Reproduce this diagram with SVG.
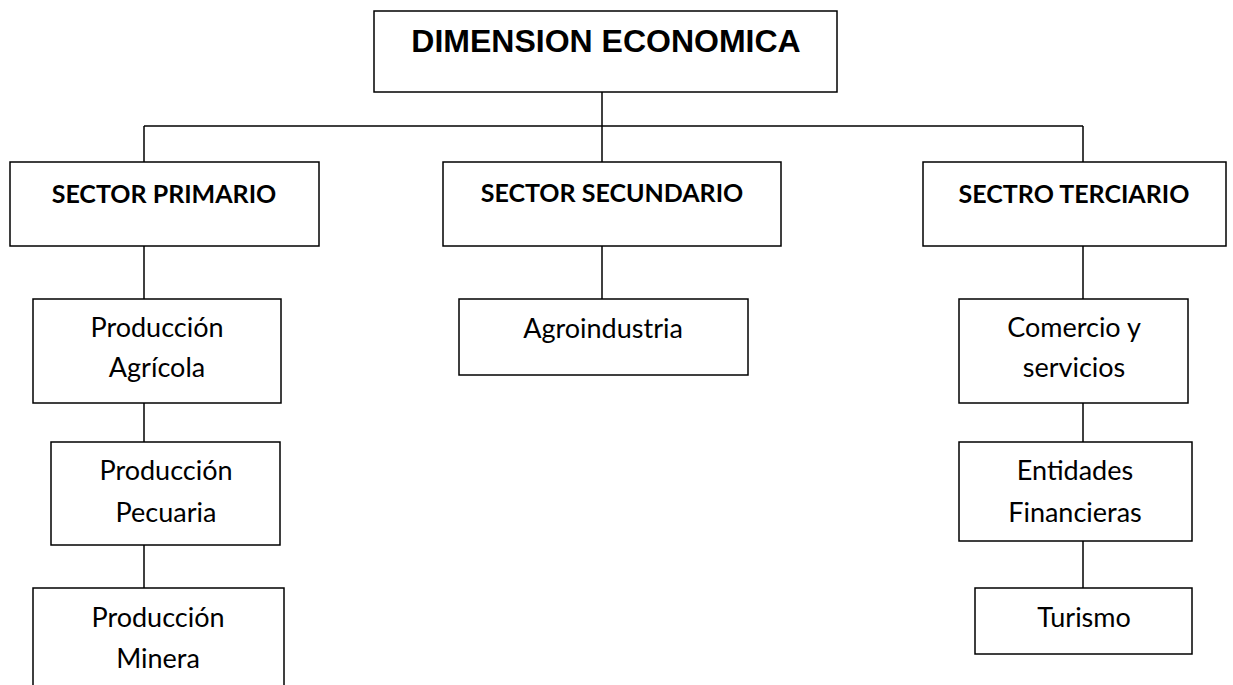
<svg xmlns="http://www.w3.org/2000/svg" width="1233" height="685" viewBox="0 0 1233 685">
<style>
.box{fill:#fff;stroke:#000;stroke-width:1.5}
.ln{fill:none;stroke:#000;stroke-width:1.5}
.title{font-family:"Liberation Sans",Arial,sans-serif;font-weight:bold;font-size:32px;text-anchor:middle;fill:#000}
.hd{font-family:Lato,"Open Sans",sans-serif;font-weight:bold;font-size:25px;text-anchor:middle;fill:#000}
.tx{font-family:Lato,"Open Sans",sans-serif;font-size:27px;text-anchor:middle;fill:#000}
</style>
<rect width="1233" height="685" fill="#fff"/>
<g id="connectors">
<line class="ln" x1="602" y1="92" x2="602" y2="126"/>
<line class="ln" x1="144" y1="126" x2="1083" y2="126"/>
<line class="ln" x1="144" y1="126" x2="144" y2="162"/>
<line class="ln" x1="602" y1="126" x2="602" y2="162"/>
<line class="ln" x1="1083" y1="126" x2="1083" y2="162"/>
<line class="ln" x1="144" y1="246" x2="144" y2="299"/>
<line class="ln" x1="144" y1="403" x2="144" y2="442"/>
<line class="ln" x1="144" y1="545" x2="144" y2="588"/>
<line class="ln" x1="602" y1="246" x2="602" y2="299"/>
<line class="ln" x1="1083" y1="246" x2="1083" y2="299"/>
<line class="ln" x1="1083" y1="403" x2="1083" y2="442"/>
<line class="ln" x1="1083" y1="541" x2="1083" y2="588"/>
</g>
<g id="dimension">
<rect class="box" x="374" y="11" width="463" height="81"/>
<text class="title" x="606" y="52">DIMENSION ECONOMICA</text>
</g>
<g id="primario">
<rect class="box" x="10" y="162" width="309" height="84"/>
<text class="hd" x="164" y="203">SECTOR PRIMARIO</text>
</g>
<g id="secundario">
<rect class="box" x="443" y="162" width="338" height="84"/>
<text class="hd" x="612" y="202">SECTOR SECUNDARIO</text>
</g>
<g id="terciario">
<rect class="box" x="923" y="162" width="303" height="84"/>
<text class="hd" x="1074" y="203">SECTRO TERCIARIO</text>
</g>
<g id="agricola">
<rect class="box" x="33" y="299" width="248" height="104"/>
<text class="tx" x="157" y="337">Producción</text>
<text class="tx" x="157" y="377">Agrícola</text>
</g>
<g id="pecuaria">
<rect class="box" x="51" y="442" width="229" height="103"/>
<text class="tx" x="166" y="480">Producción</text>
<text class="tx" x="166" y="522">Pecuaria</text>
</g>
<g id="minera">
<rect class="box" x="33" y="588" width="251" height="120"/>
<text class="tx" x="158" y="627">Producción</text>
<text class="tx" x="158" y="668">Minera</text>
</g>
<g id="agroindustria">
<rect class="box" x="459" y="299" width="289" height="76"/>
<text class="tx" x="603" y="338">Agroindustria</text>
</g>
<g id="comercio">
<rect class="box" x="959" y="299" width="229" height="104"/>
<text class="tx" x="1074" y="337">Comercio y</text>
<text class="tx" x="1074" y="377">servicios</text>
</g>
<g id="entidades">
<rect class="box" x="959" y="442" width="233" height="99"/>
<text class="tx" x="1075" y="480">Entidades</text>
<text class="tx" x="1075" y="522">Financieras</text>
</g>
<g id="turismo">
<rect class="box" x="975" y="588" width="217" height="66"/>
<text class="tx" x="1084" y="627">Turismo</text>
</g>
</svg>
